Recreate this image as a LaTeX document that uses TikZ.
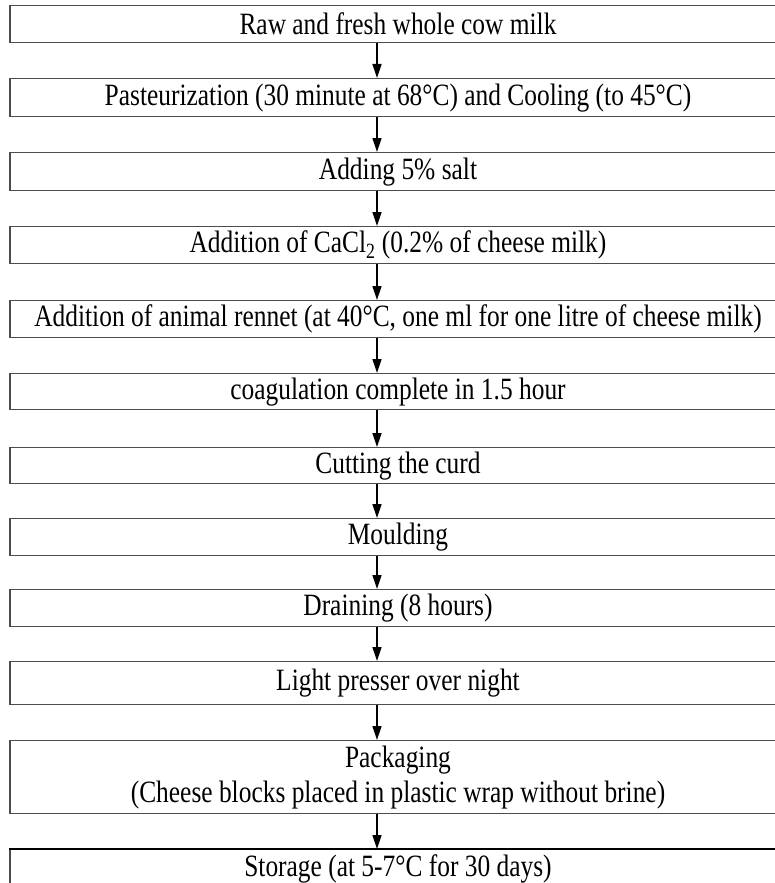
\documentclass[tikz,border=0pt]{standalone}
\usepackage{fontspec}
\setmainfont{Liberation Serif}[FakeStretch=0.82]
\usepackage{tikz}
\usetikzlibrary{arrows.meta}
\usepackage{xcolor}

\begin{document}
\begin{tikzpicture}[x=1pt, y=-1pt,
    stepbox/.style={draw=black!70, line width=1.3pt, minimum width=776pt,
        inner sep=0pt, anchor=north, font=\fontsize{31}{35}\selectfont},
    flow/.style={line width=1.4pt, -{Triangle[width=9pt, length=14pt]}}]
    \useasboundingbox (0,0) rectangle (775,883);
    \clip (0,0) rectangle (775,883);
    \coordinate (ax) at (377,0);

    \node[stepbox, minimum height=37pt] (raw) at (398,5) {Raw and fresh whole cow milk};
    \node[stepbox, minimum height=38pt] (past) at (398,78) {Pasteurization (30 minute at 68°C) and Cooling (to 45°C)};
    \node[stepbox, minimum height=38pt] (salt) at (398,152) {Adding 5\% salt};
    \node[stepbox, minimum height=37pt] (cacl) at (398,226) {Addition of CaCl\textsubscript{2} (0.2\% of cheese milk)};
    \node[stepbox, minimum height=37pt] (rennet) at (398,300) {Addition of animal rennet (at 40°C, one ml for one litre of cheese milk)};
    \node[stepbox, minimum height=36pt] (coag) at (398,373) {coagulation complete in 1.5 hour};
    \node[stepbox, minimum height=36pt] (cut) at (398,447) {Cutting the curd};
    \node[stepbox, minimum height=37pt] (mould) at (398,518) {Moulding};
    \node[stepbox, minimum height=37pt] (drain) at (398,589) {Draining (8 hours)};
    \node[stepbox, minimum height=43pt] (press) at (398,661) {Light presser over night};
    \node[stepbox, minimum height=73pt, align=center] (pack) at (398,740)
        {Packaging\\(Cheese blocks placed in plastic wrap without brine)};
    \node[stepbox, minimum height=38pt] (store) at (398,849) {Storage (at 5-7°C for 30 days)};
    \draw[line width=2.6pt] (store.north west) -- (store.north east);

    \foreach \a/\b in {raw/past, past/salt, salt/cacl, cacl/rennet, rennet/coag,
        coag/cut, cut/mould, mould/drain, drain/press, press/pack, pack/store}
        \draw[flow] (\a.south -| ax) -- (\b.north -| ax);
\end{tikzpicture}
\end{document}
